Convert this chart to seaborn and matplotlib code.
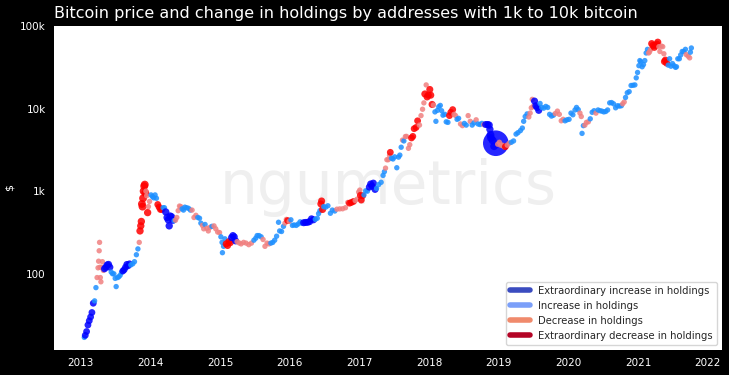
import pandas as pd
import seaborn as sns
import matplotlib.pyplot as plt
import matplotlib.dates as mdates
from matplotlib.lines import Line2D
from matplotlib.ticker import FixedLocator, NullLocator

# Bitcoin price (USD), with the change in holdings of
# 1k-10k BTC addresses (sign = direction, |value| >= 5 = extraordinary)
dates_2013 = ["01-20", "01-25", "02-01", "02-08", "02-15", "02-22", "03-01", "03-08", "03-15", "03-22",
              "03-28", "04-02", "04-05", "04-08", "04-10", "04-12", "04-14", "04-17", "04-20", "04-25",
              "04-30", "05-06", "05-13", "05-20", "05-27", "06-03", "06-10", "06-17", "06-24", "07-01",
              "07-06", "07-13", "07-20", "07-27", "08-03", "08-10", "08-17", "08-24", "08-31", "09-07",
              "09-14", "09-21", "10-01", "10-10", "10-20", "10-28", "11-04", "11-08", "11-12", "11-15",
              "11-18", "11-21", "11-24", "11-27", "11-30", "12-03", "12-06", "12-09", "12-13", "12-18",
              "12-22", "12-28"]
price_2013 = [17, 18, 20, 24, 27, 30, 34, 44, 47, 68,
              90, 118, 142, 190, 240, 120, 90, 80, 120, 140,
              110, 115, 120, 128, 130, 120, 105, 100, 100, 88,
              70, 90, 92, 96, 104, 108, 112, 120, 130, 125,
              132, 128, 132, 140, 170, 200, 240, 330, 380, 430,
              700, 650, 820, 1000, 1150, 1200, 950, 1000, 880, 550,
              650, 750]
change_2013 = [2, 7, 7, 7, 7, 7, 7, 7, 2, 2,
               -2, -2, -2, -2, -2, -2, -2, -2, -2, -2,
               -2, 8, 8, 8, 8, 8, 2, 2, 2, 2,
               2, 2, 2, 2, 2, 7, 7, 7, 7, 7,
               7, 2, 2, 2, 2, 2, -2, -9, -9, -9,
               -10, -10, -10, -10, -10, -10, -10, -2, -2, -9,
               -2, -2]

dates_2014 = ["01-05", "01-12", "01-19", "01-26", "02-02", "02-09", "02-16", "02-23", "03-02", "03-09",
              "03-16", "03-23", "03-30", "04-05", "04-10", "04-15", "04-22", "04-29", "05-06", "05-13",
              "05-20", "05-27", "06-03", "06-10", "06-17", "06-24", "07-01", "07-10", "07-20", "07-30",
              "08-08", "08-18", "08-28", "09-07", "09-16", "09-23", "10-01", "10-08", "10-15", "10-24",
              "11-01", "11-10", "11-20", "12-01", "12-10", "12-20", "12-30"]
price_2014 = [900, 860, 830, 900, 820, 690, 640, 600, 600, 630,
              630, 560, 480, 450, 380, 500, 490, 445, 440, 445,
              480, 580, 660, 650, 610, 590, 640, 630, 620, 590,
              590, 480, 510, 480, 470, 410, 385, 350, 395, 355,
              330, 365, 375, 380, 350, 320, 315]
change_2014 = [2, 2, 2, 2, 2, -7, -7, -7, -7, 2,
               2, 9, 9, 9, 9, 9, 9, 9, 2, -2,
               -2, -2, -2, -2, 2, 2, 2, 2, 2, 2,
               -2, -2, -2, 2, 2, 2, -2, -2, 2, -2,
               -2, -2, 2, -2, -2, -2, -2]

dates_2015 = ["01-06", "01-12", "01-14", "01-20", "01-27", "02-03", "02-10", "02-17", "02-24", "03-03",
              "03-10", "03-17", "03-24", "04-01", "04-12", "04-22", "05-05", "05-18", "06-01", "06-15",
              "06-28", "07-08", "07-15", "07-25", "08-05", "08-15", "08-25", "09-05", "09-15", "09-25",
              "10-05", "10-15", "10-25", "11-04", "11-10", "11-20", "11-30", "12-08", "12-15", "12-22",
              "12-30"]
price_2015 = [280, 240, 180, 215, 265, 230, 220, 245, 238, 275,
              290, 280, 250, 245, 236, 230, 240, 235, 225, 235,
              255, 270, 290, 290, 280, 260, 215, 235, 230, 235,
              240, 255, 285, 420, 330, 325, 375, 410, 455, 440,
              430]
change_2015 = [2, 2, 2, 2, 2, -8, -8, -8, -8, 8,
               8, 8, 8, -2, -2, -2, -2, -2, -2, -2,
               2, 2, 2, 2, 2, -2, -2, -2, -2, 2,
               2, 2, 2, 2, 2, 2, 2, -2, -2, -7,
               -2]

dates_2016 = ["01-08", "01-16", "01-25", "02-05", "02-15", "02-25", "03-05", "03-15", "03-25", "04-05",
              "04-15", "04-25", "05-05", "05-15", "05-25", "06-01", "06-08", "06-13", "06-17", "06-22",
              "06-28", "07-08", "07-20", "08-02", "08-12", "08-25", "09-05", "09-20", "10-05", "10-20",
              "11-01", "11-10", "11-20", "12-01", "12-10", "12-20", "12-28"]
price_2016 = [450, 385, 390, 385, 400, 425, 410, 415, 418, 420,
              428, 462, 450, 456, 470, 535, 580, 700, 760, 600,
              650, 640, 665, 540, 590, 575, 605, 610, 612, 630,
              730, 715, 730, 750, 770, 800, 975]
change_2016 = [2, 2, 2, 2, 2, 2, 2, 8, 8, 8,
               8, 8, 8, 2, 2, 2, 2, -8, -8, -8,
               2, 2, 2, 2, 2, 2, -2, -2, -2, -2,
               -2, -7, -7, -7, -2, -2, -2]

dates_2017 = ["01-03", "01-06", "01-11", "01-18", "01-25", "02-03", "02-12", "02-22", "03-01", "03-08",
              "03-15", "03-24", "04-01", "04-12", "04-25", "05-05", "05-12", "05-18", "05-25", "06-01",
              "06-08", "06-12", "06-18", "06-26", "07-05", "07-16", "07-25", "08-01", "08-08", "08-15",
              "08-22", "08-30", "09-05", "09-15", "09-22", "10-01", "10-08", "10-15", "10-25", "11-02",
              "11-12", "11-20", "11-28", "12-05", "12-10", "12-17", "12-22", "12-28"]
price_2017 = [1030, 890, 780, 880, 900, 1010, 1000, 1120, 1220, 1150,
              1250, 1050, 1080, 1200, 1280, 1550, 1720, 1900, 2400, 2400,
              2700, 2950, 2500, 2450, 2600, 1920, 2580, 2730, 3400, 4150,
              4050, 4580, 4600, 3300, 3650, 4400, 4600, 5700, 5900, 7100,
              6300, 8200, 9800, 11700, 15000, 19300, 13800, 14500]
change_2017 = [-2, -7, -7, -7, 2, 2, 2, 8, 8, 8,
               8, 8, 2, 2, 2, 2, 2, -2, -2, -2,
               -2, -7, 2, 2, 2, 2, 2, 2, 2, -2,
               2, -2, -2, -2, -2, -7, -7, -7, -7, -7,
               -2, -2, -2, -2, -8, -2, -8, -8]

dates_2018 = ["01-05", "01-10", "01-17", "01-24", "02-01", "02-06", "02-14", "02-21", "03-01", "03-08",
              "03-15", "03-25", "04-01", "04-10", "04-18", "04-25", "05-05", "05-12", "05-20", "05-28",
              "06-05", "06-15", "06-25", "07-05", "07-15", "07-25", "08-05", "08-15", "08-25", "09-05",
              "09-15", "09-25", "10-05", "10-15", "10-25", "11-05", "11-12", "11-16", "11-19", "11-22",
              "12-01", "12-08", "12-17", "12-27"]
price_2018 = [17000, 14500, 11200, 11000, 9100, 7000, 9500, 10500, 10900, 9400,
              8300, 8500, 6900, 6800, 8200, 9000, 9700, 8500, 8200, 7400,
              7600, 6500, 6200, 6600, 6300, 8200, 7000, 6300, 6700, 7300,
              6500, 6400, 6600, 6400, 6400, 6400, 6300, 5600, 4800, 4400,
              4100, 3500, 3800, 3700]
change_2018 = [-8, -8, -8, -2, 2, 2, 2, 2, 2, 2,
               2, 2, 2, 2, -7, -7, -7, -2, -2, 2,
               2, -2, -2, 2, 2, -2, -2, 2, 2, -2,
               2, 2, 2, -2, 8, 8, 9, 9, 10, 10,
               10, 10, 80, -2]

dates_2019 = ["01-05", "01-12", "01-20", "01-28", "02-05", "02-15", "02-25", "03-08", "03-20", "04-02",
              "04-12", "04-25", "05-05", "05-12", "05-20", "05-30", "06-08", "06-15", "06-21", "06-26",
              "07-01", "07-08", "07-15", "07-22", "07-30", "08-06", "08-15", "08-25", "09-05", "09-15",
              "09-25", "10-05", "10-15", "10-25", "11-05", "11-15", "11-25", "12-05", "12-15", "12-25"]
price_2019 = [3900, 3600, 3600, 3450, 3450, 3600, 3800, 3900, 4050, 4900,
              5100, 5400, 5800, 7000, 8000, 8600, 7900, 8800, 10200, 12900,
              10600, 12300, 10800, 10300, 9500, 11500, 10300, 10100, 10600, 10300,
              8500, 8100, 8300, 8700, 9300, 8500, 7100, 7400, 7100, 7300]
change_2019 = [-2, -2, -2, -2, -7, -2, -2, 2, 2, 2,
               2, 2, 2, 2, 2, 2, -2, -2, -2, -2,
               -2, 8, 8, 8, 8, 2, 2, 2, 2, 2,
               2, 2, 2, -2, -2, -2, -2, -2, 2, 2]

dates_2020 = ["01-05", "01-15", "01-25", "02-05", "02-13", "02-22", "03-02", "03-09", "03-13", "03-20",
              "03-28", "04-05", "04-15", "04-25", "05-05", "05-15", "05-25", "06-05", "06-15", "06-25",
              "07-05", "07-15", "07-25", "08-05", "08-15", "08-25", "09-05", "09-15", "09-25", "10-05",
              "10-12", "10-20", "10-27", "11-05", "11-15", "11-25", "12-05", "12-15", "12-22", "12-29"]
price_2020 = [7400, 8800, 8400, 9600, 10300, 9700, 8800, 8000, 5000, 6200,
              6300, 6800, 6900, 7500, 9000, 9400, 8800, 9600, 9400, 9300,
              9100, 9200, 9600, 11700, 11800, 11400, 10200, 10800, 10700, 10800,
              11400, 12000, 13600, 15500, 16000, 19000, 19100, 19300, 23500, 27300]
change_2020 = [2, 2, 2, 2, 2, 2, -2, -2, 2, 2,
               -2, -2, -2, 2, 2, 2, -2, 2, 2, 2,
               2, 2, 2, 2, 2, 2, 2, 2, 2, 2,
               -2, -2, 2, 2, 2, 2, 2, 2, 2, 2]

dates_2021 = ["01-05", "01-10", "01-15", "01-22", "01-29", "02-05", "02-12", "02-19", "02-25", "03-02",
              "03-08", "03-13", "03-20", "03-27", "04-03", "04-10", "04-14", "04-20", "04-25", "05-03",
              "05-10", "05-16", "05-19", "05-24", "05-30", "06-08", "06-15", "06-22", "06-30", "07-08",
              "07-16", "07-21", "07-28", "08-05", "08-12", "08-20", "08-28", "09-06", "09-10", "09-20",
              "09-28", "10-02", "10-07"]
price_2021 = [33000, 38000, 36800, 32000, 34000, 38000, 47000, 52000, 47000, 48500,
              52000, 61000, 58000, 55000, 58000, 60000, 63500, 56000, 49000, 57000,
              56000, 46000, 37000, 38500, 35500, 33500, 40000, 32500, 35000, 33000,
              31500, 32000, 40000, 40000, 44500, 49000, 48800, 52000, 45000, 43000,
              41000, 48000, 54000]
change_2021 = [2, 2, 2, 2, 2, 2, 2, 2, -2, -2,
               -2, -8, -8, -8, -8, -8, -8, -2, -2, -2,
               -2, -2, -8, -8, -8, 2, 2, 2, 2, 2,
               2, 2, 2, 2, 2, 2, 2, 2, -2, -2,
               -2, 2, 2]

years = [2013, 2014, 2015, 2016, 2017, 2018, 2019, 2020, 2021]
all_dates = [dates_2013, dates_2014, dates_2015, dates_2016, dates_2017,
             dates_2018, dates_2019, dates_2020, dates_2021]
all_prices = [price_2013, price_2014, price_2015, price_2016, price_2017,
              price_2018, price_2019, price_2020, price_2021]
all_changes = [change_2013, change_2014, change_2015, change_2016, change_2017,
               change_2018, change_2019, change_2020, change_2021]

labels = ["Extraordinary increase in holdings", "Increase in holdings",
          "Decrease in holdings", "Extraordinary decrease in holdings"]
point_colors = ["blue", "dodgerblue", "lightcoral", "red"]
legend_colors = ["#3b4cc0", "#7b9ff9", "#f08a6c", "#b40426"]
# marker area (pt^2) for each magnitude of holdings change
marker_sizes = {2: 15, 7: 24, 8: 26, 9: 28, 10: 32, 80: 340}


def classify(c):
    if c >= 5:
        return labels[0]
    if c > 0:
        return labels[1]
    if c > -5:
        return labels[2]
    return labels[3]


frames = []
for yr, d, p, c in zip(years, all_dates, all_prices, all_changes):
    assert len(d) == len(p) == len(c), yr
    frames.append(pd.DataFrame({
        "date": pd.to_datetime([f"{yr}-{x}" for x in d]),
        "price": p,
        "change": c,
    }))
df = pd.concat(frames, ignore_index=True)
df["kind"] = df["change"].apply(classify)
df["magnitude"] = df["change"].abs()

sns.set_theme(style="white")
plt.rcParams["font.family"] = ["DejaVu Sans"]

fig = plt.figure(figsize=(7.29, 3.75), dpi=100, facecolor="black")
ax = fig.add_axes([0.074, 0.067, 0.916, 0.864])
ax.set_facecolor("white")

ax.text(0.5, 0.5, "ngumetrics", transform=ax.transAxes, ha="center", va="center",
        fontsize=43, color="#efefef", zorder=0)

sns.scatterplot(data=df, x="date", y="price", hue="kind",
                palette=dict(zip(labels, point_colors)),
                size="magnitude", sizes=marker_sizes,
                linewidth=0, alpha=0.85, legend=False, ax=ax, zorder=2)

ax.set_yscale("log")
ax.set_ylim(12, 100000)
ax.yaxis.set_major_locator(FixedLocator([100, 1000, 10000, 100000]))
ax.yaxis.set_minor_locator(NullLocator())
ax.set_yticklabels(["100", "1k", "10k", "100k"])
ax.xaxis.set_major_locator(mdates.YearLocator())
ax.xaxis.set_major_formatter(mdates.DateFormatter("%Y"))

for s in ax.spines.values():
    s.set_visible(False)
ax.tick_params(colors="white", labelsize=7.5, length=0, pad=6)
ax.set_xlabel("")
ax.set_ylabel("$", color="white", fontsize=8)
ax.set_title("Bitcoin price and change in holdings by addresses with 1k to 10k bitcoin",
             loc="left", color="white", fontsize=11.5, pad=6)

handles = [Line2D([0], [0], color=c, lw=4) for c in legend_colors]
ax.legend(handles, labels, loc="lower right", fontsize=7.2, frameon=True)

fig.savefig("out.png", dpi=100, facecolor="black")
